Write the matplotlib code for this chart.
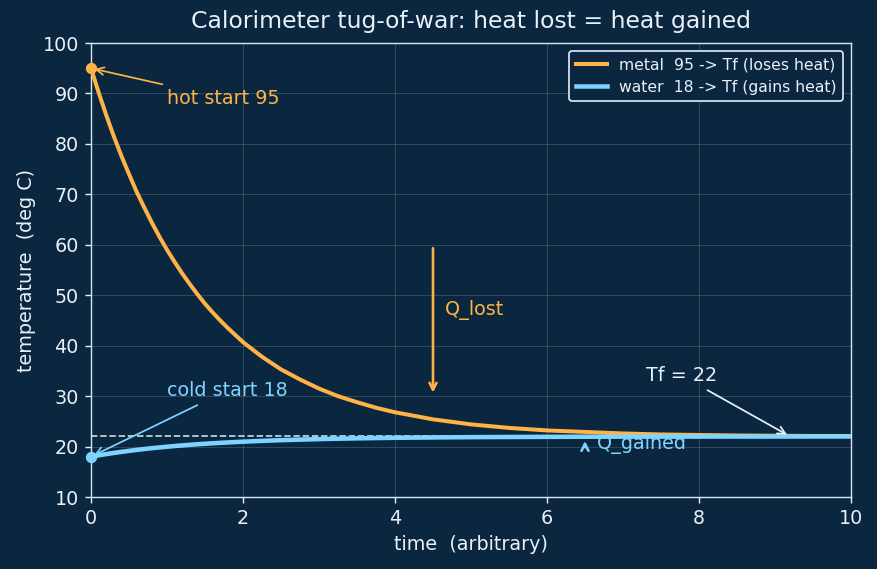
import matplotlib
matplotlib.use("Agg")
import matplotlib.pyplot as plt

BG = "#0b2740"
METAL = "#ffb347"
WATER = "#7fd4ff"
FG = "#e8f0f8"

t_vals = [0, 0.1, 0.2, 0.3, 0.4, 0.5, 0.6, 0.7, 0.8, 0.9, 1.0,
          1.1, 1.2, 1.3, 1.4, 1.5, 1.6, 1.7, 1.8, 1.9, 2.0,
          2.25, 2.5, 2.75, 3.0, 3.25, 3.5, 3.75, 4.0,
          4.5, 5.0, 5.5, 6.0, 6.5, 7.0, 7.5, 8.0, 8.5, 9.0, 9.5, 10.0]
metal_temp = [95, 90.2, 85.7, 81.5, 77.6, 74.0, 70.5, 67.4, 64.4, 61.6, 59.0,
              56.6, 54.3, 52.2, 50.2, 48.3, 46.6, 45.0, 43.5, 42.1, 40.7,
              37.8, 35.3, 33.3, 31.5, 30.0, 28.8, 27.7, 26.8,
              25.4, 24.4, 23.7, 23.2, 22.9, 22.6, 22.4, 22.3, 22.2, 22.15, 22.1, 22.1]
water_temp = [18, 18.26, 18.51, 18.74, 18.95, 19.15, 19.34, 19.51, 19.68, 19.83, 19.97,
              20.11, 20.23, 20.35, 20.46, 20.56, 20.65, 20.74, 20.82, 20.90, 20.97,
              21.13, 21.27, 21.38, 21.48, 21.56, 21.63, 21.69, 21.74,
              21.81, 21.87, 21.90, 21.93, 21.95, 21.97, 21.98, 21.98, 21.99, 21.99, 22.0, 22.0]
T_hot = 95
T_cold = 18
T_final = 22

fig = plt.figure(figsize=(877 / 125, 569 / 125), dpi=125, facecolor=BG)
ax = fig.add_axes([0.1038, 0.1265, 0.8665, 0.7979])
ax.set_facecolor(BG)

ax.plot(t_vals, metal_temp, color=METAL, lw=2.3, label="metal  95 -> Tf (loses heat)", zorder=3)
ax.plot(t_vals, water_temp, color=WATER, lw=2.6, label="water  18 -> Tf (gains heat)", zorder=3)
ax.plot([0], [T_hot], "o", color=METAL, ms=5.5, zorder=4, clip_on=False)
ax.plot([0], [T_cold], "o", color=WATER, ms=5.5, zorder=4, clip_on=False)
ax.axhline(T_final, color="#c8d4e0", lw=1.0, ls="--", zorder=2)

ax.set_xlim(0, 10)
ax.set_ylim(10, 100)
ax.set_xticks([0, 2, 4, 6, 8, 10])
ax.set_yticks(range(10, 101, 10))
ax.grid(True, color="white", alpha=0.15, lw=0.6)
for s in ax.spines.values():
    s.set_color("#d8e6f2")
ax.tick_params(colors=FG, labelsize=11)
for lab in ax.get_xticklabels() + ax.get_yticklabels():
    lab.set_color(FG)

ax.set_xlabel("time  (arbitrary)", color=FG, fontsize=11)
ax.set_ylabel("temperature  (deg C)", color=FG, fontsize=11)
ax.set_title("Calorimeter tug-of-war: heat lost = heat gained", color=FG, fontsize=13.5, pad=8.5)

ax.annotate("hot start 95", xy=(0, T_hot), xytext=(1.0, 88), color=METAL, fontsize=11,
            arrowprops=dict(arrowstyle="->", color=METAL, lw=1.0))
ax.annotate("cold start 18", xy=(0, T_cold), xytext=(1.0, 30), color=WATER, fontsize=11,
            arrowprops=dict(arrowstyle="->", color=WATER, lw=1.0))
ax.annotate("Tf = 22", xy=(9.2, T_final), xytext=(7.3, 33), color=FG, fontsize=11,
            arrowprops=dict(arrowstyle="->", color=FG, lw=1.0))
ax.annotate("", xy=(4.5, 30), xytext=(4.5, 60),
            arrowprops=dict(arrowstyle="->", color=METAL, lw=1.5))
ax.text(4.65, 47, "Q_lost", color=METAL, fontsize=11, va="center")
ax.annotate("", xy=(6.5, 21.8), xytext=(6.5, 19.2),
            arrowprops=dict(arrowstyle="->", color=WATER, lw=1.5))
ax.text(6.65, 20.5, "Q_gained", color=WATER, fontsize=11, va="center")

leg = ax.legend(loc="upper right", fontsize=9, facecolor=BG, edgecolor="#d8e6f2",
                framealpha=1.0)
for txt in leg.get_texts():
    txt.set_color(FG)

fig.savefig("out.png", dpi=125, facecolor=BG)
